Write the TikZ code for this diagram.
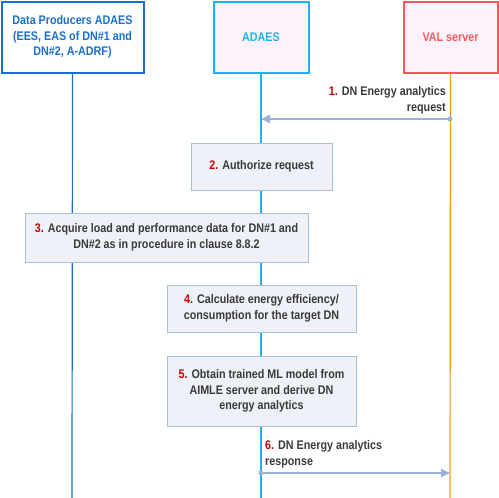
\documentclass[tikz,border=0pt]{standalone}
\usepackage{fontspec}
\setmainfont{Liberation Sans}[FakeStretch=0.86]
\usetikzlibrary{arrows.meta}
\definecolor{prodblue}{HTML}{1A6FCF}
\definecolor{adaescyan}{HTML}{1BB3EE}
\definecolor{valred}{HTML}{F25A5A}
\definecolor{valorange}{HTML}{F7941D}
\definecolor{headfill}{HTML}{FDF2FC}
\definecolor{stepfill}{HTML}{EEF1F7}
\definecolor{stepline}{HTML}{A9BEDA}
\definecolor{steptext}{HTML}{3A3A3A}
\definecolor{stepred}{HTML}{C80000}
\definecolor{msgline}{HTML}{9AB2D6}
\newcommand{\stepno}[1]{\textcolor{stepred}{#1.}}
\tikzset{
  head/.style={draw, line width=2pt, minimum height=71pt, inner sep=0pt, align=center,
    font=\bfseries\fontsize{12.5}{15.5}\selectfont},
  stepbox/.style={draw=stepline, fill=stepfill, line width=1pt, inner sep=0pt, align=center,
    text=steptext, font=\bfseries\fontsize{12.5}{15.5}\selectfont},
  msgtext/.style={inner sep=0pt, text=steptext, font=\bfseries\fontsize{12.5}{15.5}\selectfont},
  msg/.style={draw=msgline, line width=2pt, -{Triangle[length=9pt,width=8pt]}},
  msgdot/.style={fill=msgline}
}
\begin{document}
\begin{tikzpicture}[x=1pt,y=-1pt]
\useasboundingbox (0,0) rectangle (499,498);
% heads
\node[head, draw=prodblue, fill=white, text=prodblue, minimum width=142pt] (prod) at (72.5,37)
  {Data Producers ADAES\\(EES, EAS of DN\#1 and\\DN\#2, A-ADRF)};
\node[head, draw=adaescyan, fill=headfill, text=adaescyan, minimum width=95pt] (adaes) at (261,37) {ADAES};
\node[head, draw=valred, fill=headfill, text=valred, minimum width=94pt] (val) at (450.5,37) {VAL server};
% lifelines
\coordinate (prodend) at (72,498);
\coordinate (adaesend) at (261,498);
\coordinate (valend) at (450,498);
\draw[prodblue, line width=1.2pt] (prod.south) -- (prodend);
\draw[adaescyan, line width=1.2pt] (adaes.south) -- (adaesend);
\draw[valorange, line width=1.2pt] (val.south) -- (valend);
% steps
\coordinate (m1start) at (450,119);
\coordinate (m1end) at (261,119);
\draw[msg] (m1start) -- (m1end);
\fill[msgdot] (m1start) circle (2.5pt);
\node[msgtext, anchor=south east, align=right] (m1label) at (446,114)
  {\stepno{1} DN Energy analytics\\request};
\node[stepbox, minimum width=141pt, minimum height=47pt] (authorize) at (261.5,166.5)
  {\stepno{2} Authorize request};
\node[stepbox, minimum width=283pt, minimum height=49pt] (acquire) at (166.5,237.5)
  {\stepno{3} Acquire load and performance data for DN\#1 and\\DN\#2 as in procedure in clause 8.8.2};
\node[stepbox, minimum width=189pt, minimum height=47pt] (calculate) at (261.5,308.5)
  {\stepno{4} Calculate energy efficiency/\\consumption for the target DN};
\node[stepbox, minimum width=189pt, minimum height=70pt] (obtain) at (261.5,391)
  {\stepno{5} Obtain trained ML model from\\AIMLE server and derive DN\\energy analytics};
\coordinate (m6start) at (261,473);
\coordinate (m6end) at (450,473);
\draw[msg] (m6start) -- (m6end);
\fill[msgdot] (m6start) circle (2.5pt);
\node[msgtext, anchor=south west, align=left] (m6label) at (265,468)
  {\stepno{6} DN Energy analytics\\response};
\end{tikzpicture}
\end{document}
